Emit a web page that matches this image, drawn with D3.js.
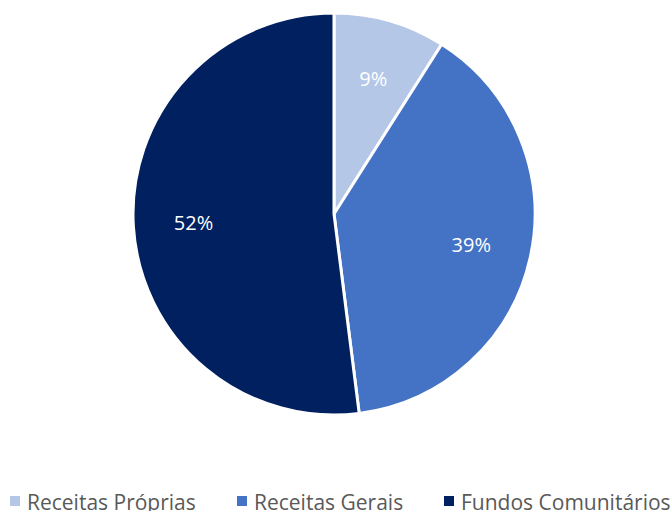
<!DOCTYPE html>
<html>
<head>
<meta charset="utf-8">
<script src="https://cdn.jsdelivr.net/npm/d3@7"></script>
<style>
  body { margin: 0; background: #fff; }
  svg { display: block; font-family: "Open Sans", "Noto Sans", sans-serif; }
</style>
</head>
<body>
<svg id="chart" width="672" height="511"></svg>
<script>
// dados do gráfico
const categories = ["Receitas Próprias", "Receitas Gerais", "Fundos Comunitários"];
const values = [9, 39, 52];
const colors = ["#B4C7E7", "#4472C4", "#002060"];

const svg = d3.select("#chart");
const cx = 334, cy = 214, radius = 201;

const pie = d3.pie().sort(null).value(d => d.value);
const arc = d3.arc().innerRadius(0).outerRadius(radius);
const labelArc = d3.arc().innerRadius(radius * 0.7).outerRadius(radius * 0.7);

const data = categories.map((c, i) => ({ name: c, value: values[i] }));
const color = d3.scaleOrdinal().domain(categories).range(colors);

const g = svg.append("g").attr("transform", `translate(${cx},${cy})`);

const slices = g.selectAll(".slice")
  .data(pie(data))
  .enter().append("g").attr("class", "slice");

slices.append("path")
  .attr("d", arc)
  .attr("fill", d => color(d.data.name))
  .attr("stroke", "#fff")
  .attr("stroke-width", 3);

// rótulos de percentagem
slices.append("text")
  .attr("transform", d => `translate(${labelArc.centroid(d)})`)
  .attr("text-anchor", "middle")
  .attr("dy", "0.35em")
  .attr("fill", "#fff")
  .attr("font-size", "20px")
  .text(d => d.data.value + "%");

// legenda
const legendX = [10, 237, 444];
const legend = svg.selectAll(".legend")
  .data(categories)
  .enter().append("g")
  .attr("class", "legend")
  .attr("transform", (d, i) => `translate(${legendX[i]},496)`);

legend.append("rect")
  .attr("width", 10).attr("height", 10)
  .attr("fill", d => color(d));

legend.append("text")
  .attr("x", 17).attr("y", 14)
  .attr("fill", "#595959")
  .attr("font-size", "21px")
  .text(d => d);
</script>
</body>
</html>
